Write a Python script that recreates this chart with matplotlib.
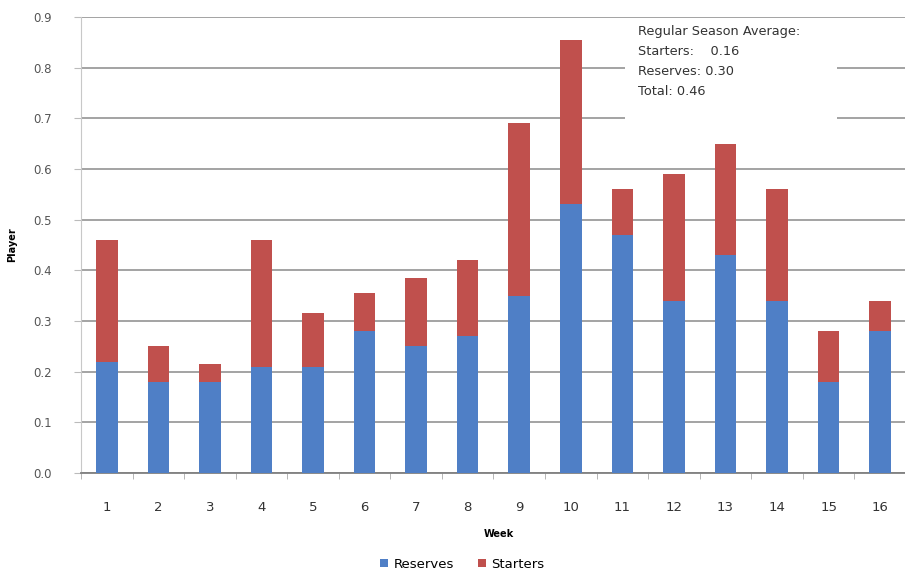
import numpy as np
import matplotlib.pyplot as plt
from matplotlib.patches import Rectangle

weeks = [str(w) for w in range(1, 17)]
reserves = [0.22, 0.18, 0.18, 0.21, 0.21, 0.28, 0.25, 0.27, 0.35, 0.53, 0.47, 0.34, 0.43, 0.34, 0.18, 0.28]
totals = [0.46, 0.25, 0.215, 0.46, 0.315, 0.355, 0.385, 0.42, 0.69, 0.855, 0.56, 0.59, 0.65, 0.56, 0.28, 0.34]
starters = [round(t - r, 3) for t, r in zip(totals, reserves)]
yticks = [0.0, 0.1, 0.2, 0.3, 0.4, 0.5, 0.6, 0.7, 0.8, 0.9]
note = ["Regular Season Average:", "Starters:    0.16", "Reserves: 0.30", "Total: 0.46"]

blue = "#4f7fc6"
red = "#c0504d"

fig = plt.figure(figsize=(9.05, 5.75), dpi=100)
ax = fig.add_axes([0.0895, 0.1774, 0.9115, 0.793])

x = np.arange(1, len(weeks) + 1)
ax.bar(x, reserves, width=0.42, color=blue, label="Reserves", zorder=3)
ax.bar(x, starters, width=0.42, bottom=reserves, color=red, label="Starters", zorder=3)

ax.set_xlim(0.5, 16.5)
ax.set_ylim(0, 0.9)
ax.set_yticks(yticks)
ax.set_yticklabels([f"{v:.1f}" for v in yticks])
ax.set_xticks(x)
ax.set_xticklabels(weeks)
ax.set_xticks(np.arange(0.5, 17, 1), minor=True)
ax.yaxis.grid(True, color="#939393", linewidth=1.2, zorder=0)

for s in ["top", "right"]:
    ax.spines[s].set_visible(False)
ax.spines["left"].set_color("#c8c8c8")
ax.spines["bottom"].set_color("#808080")
ax.spines["bottom"].set_linewidth(1.3)

ax.tick_params(axis="x", which="major", length=0, pad=20, labelsize=9.5, labelcolor="#333333")
ax.tick_params(axis="x", which="minor", length=4, color="#aaaaaa")
ax.tick_params(axis="y", length=5, color="#bbbbbb", pad=16, labelsize=8.5, labelcolor="#555555")

ax.set_xlabel("Week", fontsize=7, fontweight="bold")
ax.xaxis.set_label_coords(0.506, -0.122)
ax.set_ylabel("Player", fontsize=7, fontweight="bold")
ax.yaxis.set_label_coords(-0.078, 0.5)

# summary box in the upper right, covering the gridlines
box = Rectangle((0.66, 0.686), 0.257, 0.207, transform=ax.get_yaxis_transform(),
                facecolor="white", edgecolor="none", zorder=4)
ax.add_patch(box)
ax.text(0.675, 0.885, "\n".join(note), transform=ax.get_yaxis_transform(), va="top", ha="left",
        fontsize=9.3, color="#333333", linespacing=1.72, zorder=5)

ax.legend(loc="center", bbox_to_anchor=(0.462, -0.2), ncol=2, frameon=False,
          fontsize=9.5, handlelength=0.6, handleheight=0.6, columnspacing=1.8,
          handletextpad=0.4)

fig.savefig("out.png", dpi=100)
